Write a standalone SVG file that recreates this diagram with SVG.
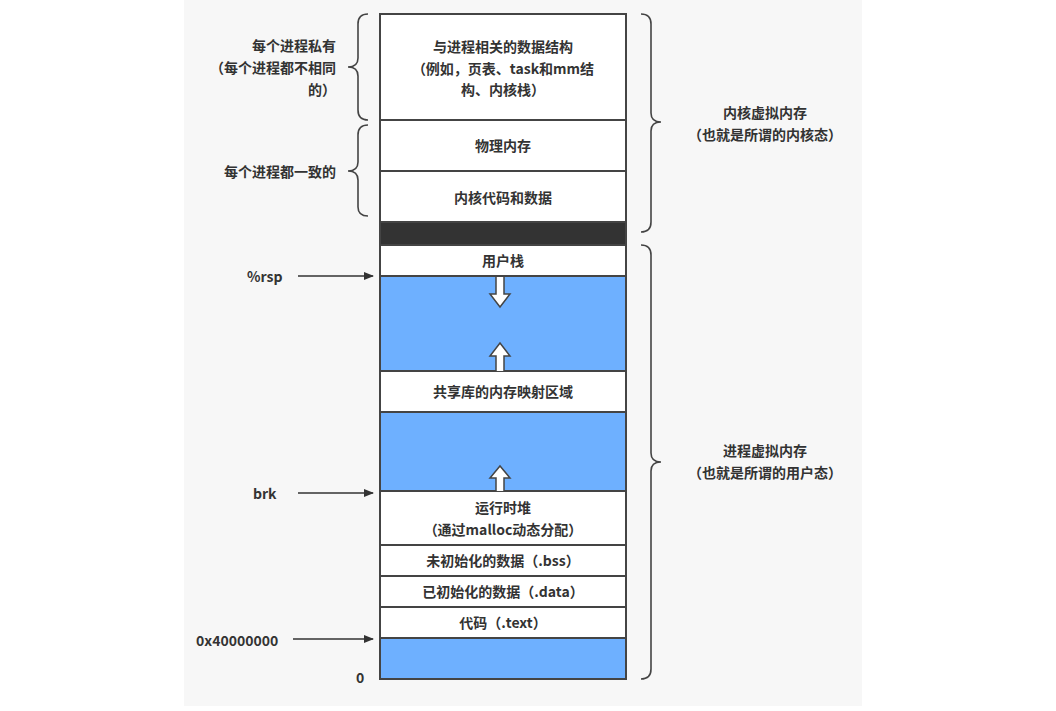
<svg xmlns="http://www.w3.org/2000/svg" width="1056" height="711" viewBox="0 0 1056 711">
<style>
text{font-family:"Noto Sans CJK SC","Noto Sans",sans-serif;font-weight:bold;font-size:14px;fill:#333}
.c{text-anchor:middle}.r{text-anchor:end}
.w{fill:#fff;stroke:#444;stroke-width:2}
.b{fill:#6eb0ff;stroke:#444;stroke-width:2}
.br{fill:none;stroke:#444;stroke-width:1.6}
.ha{fill:#fff;stroke:#444;stroke-width:1.5}
</style>
<defs><marker id="ah" markerWidth="10" markerHeight="8" refX="9" refY="4" orient="auto" markerUnits="userSpaceOnUse"><path d="M0,0L10,4L0,8z" fill="#333"/></marker></defs>
<rect x="0" y="0" width="1056" height="711" fill="#fff"/>
<rect x="184" y="0" width="678" height="706" fill="#f7f7f7"/>
<g id="n1"><rect class="w" x="380" y="14" width="246" height="106"/><text class="c" x="503" y="52">与进程相关的数据结构</text><text class="c" x="503" y="74">（例如，页表、task和mm结</text><text class="c" x="503" y="95">构、内核栈）</text></g>
<g id="n2"><rect class="w" x="380" y="120" width="246" height="51"/><text class="c" x="503" y="151">物理内存</text></g>
<g id="n3"><rect class="w" x="380" y="171" width="246" height="51"/><text class="c" x="503" y="203">内核代码和数据</text></g>
<g id="n4"><rect x="380" y="222" width="246" height="23" fill="#333" stroke="#444" stroke-width="2"/></g>
<g id="n5"><rect class="w" x="380" y="245" width="246" height="31"/><text class="c" x="503" y="266">用户栈</text></g>
<g id="n6"><rect class="b" x="380" y="276" width="246" height="95"/></g>
<g id="n7"><rect class="w" x="380" y="371" width="246" height="41"/><text class="c" x="503" y="397">共享库的内存映射区域</text></g>
<g id="n8"><rect class="b" x="380" y="412" width="246" height="79"/></g>
<g id="n9"><rect class="w" x="380" y="491" width="246" height="54"/><text class="c" x="503" y="513">运行时堆</text><text class="c" x="503" y="535">（通过malloc动态分配）</text></g>
<g id="n10"><rect class="w" x="380" y="545" width="246" height="31"/><text class="c" x="503" y="566">未初始化的数据（.bss）</text></g>
<g id="n11"><rect class="w" x="380" y="576" width="246" height="31"/><text class="c" x="503" y="597">已初始化的数据（.data）</text></g>
<g id="n12"><rect class="w" x="380" y="607" width="246" height="31"/><text class="c" x="503" y="628">代码（.text）</text></g>
<g id="n13"><rect class="b" x="380" y="638" width="246" height="41"/></g>
<g id="hollow">
<path class="ha" d="M496,277V294H490L500,307L510,294H504V277"/>
<path class="ha" d="M496,371V356H490L500,343L510,356H504V371"/>
<path class="ha" d="M496,491V478H490L500,466L510,478H504V491"/>
</g>
<g id="braces">
<path class="br" d="M368,14Q358,14 358,24V58Q358,67 348,67Q358,67 358,76V110Q358,120 368,120"/>
<path class="br" d="M368,125Q358,125 358,135V162Q358,171 348,171Q358,171 358,180V207Q358,216 368,216"/>
<path class="br" d="M641,14Q651,14 651,24V113Q651,122 661,122Q651,122 651,131V222Q651,232 641,232"/>
<path class="br" d="M641,245Q651,245 651,255V453Q651,462 661,462Q651,462 651,471V669Q651,679 641,679"/>
</g>
<g id="connectors">
<line x1="298" y1="276" x2="373" y2="276" stroke="#333" stroke-width="1.6" marker-end="url(#ah)"/>
<line x1="298" y1="493" x2="373" y2="493" stroke="#333" stroke-width="1.6" marker-end="url(#ah)"/>
<line x1="293" y1="639" x2="373" y2="639" stroke="#333" stroke-width="1.6" marker-end="url(#ah)"/>
</g>
<g id="labels">
<text class="r" x="336" y="51">每个进程私有</text>
<text class="r" x="336" y="73">（每个进程都不相同</text>
<text class="r" x="336" y="95">的）</text>
<text class="r" x="336" y="177">每个进程都一致的</text>
<text x="247" y="282">%rsp</text>
<text x="253" y="499">brk</text>
<text x="196" y="646">0x40000000</text>
<text x="356" y="683">0</text>
<text class="c" x="765" y="118">内核虚拟内存</text>
<text class="c" x="765" y="140">（也就是所谓的内核态）</text>
<text class="c" x="765" y="456">进程虚拟内存</text>
<text class="c" x="765" y="478">（也就是所谓的用户态）</text>
</g>
</svg>
